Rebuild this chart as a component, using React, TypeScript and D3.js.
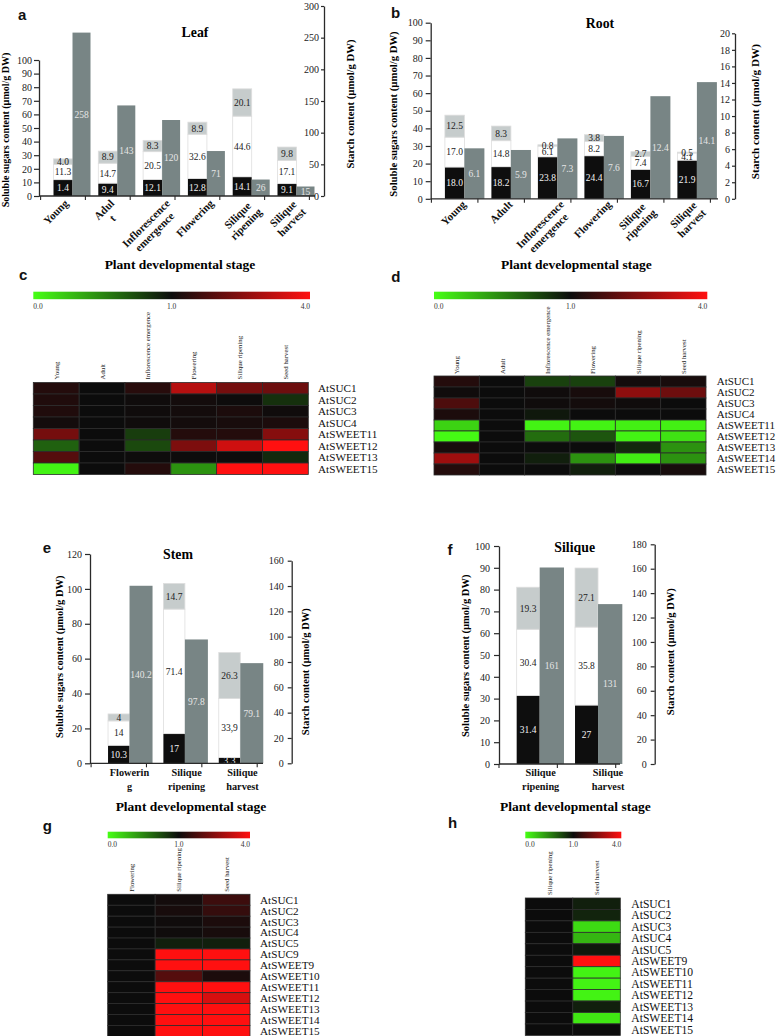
import React, { useEffect, useRef } from 'react';
import * as d3 from 'd3';

// ---------------- DATA ----------------
// Panel a: Leaf
const leafStages = ['Young', 'Adult', 'Inflorescence emergence', 'Flowering', 'Silique ripening', 'Silique harvest'];
const leafTickLines = [['Young'], ['Adul', 't'], ['Inflorescence', 'emergence'], ['Flowering'], ['Silique', 'ripening'], ['Silique', 'harvest']];
const leafSugarA = [12.0, 9.4, 12.1, 12.8, 14.1, 9.1];
const leafSugarAText = ['1.4', '9.4', '12.1', '12.8', '14.1', '9.1'];
const leafSugarB = [11.3, 14.7, 20.5, 32.6, 44.6, 17.1];
const leafSugarBText = ['11.3', '14.7', '20.5', '32.6', '44.6', '17.1'];
const leafSugarC = [4.0, 8.9, 8.3, 8.9, 20.1, 9.8];
const leafSugarCText = ['4.0', '8.9', '8.3', '8.9', '20.1', '9.8'];
const leafStarch = [258, 143, 120, 71, 26, 15];
const leafStarchText = ['258', '143', '120', '71', '26', '15'];

// Panel b: Root
const rootStages = ['Young', 'Adult', 'Inflorescence emergence', 'Flowering', 'Silique ripening', 'Silique harvest'];
const rootTickLines = [['Young'], ['Adult'], ['Inflorescence', 'emergence'], ['Flowering'], ['Silique', 'ripening'], ['Silique', 'harvest']];
const rootSugarA = [18.0, 18.2, 23.8, 24.4, 16.7, 21.9];
const rootSugarAText = ['18.0', '18.2', '23.8', '24.4', '16.7', '21.9'];
const rootSugarB = [17.0, 14.8, 6.1, 8.2, 7.4, 4.1];
const rootSugarBText = ['17.0', '14.8', '6.1', '8.2', '7.4', '4.1'];
const rootSugarC = [12.5, 8.3, 0.8, 3.8, 2.7, 0.5];
const rootSugarCText = ['12.5', '8.3', '0.8', '3.8', '2.7', '0.5'];
const rootStarch = [6.1, 5.9, 7.3, 7.6, 12.4, 14.1];
const rootStarchText = ['6.1', '5.9', '7.3', '7.6', '12.4', '14.1'];

// Panel e: Stem
const stemStages = ['Flowering', 'Silique ripening', 'Silique harvest'];
const stemTickLines = [['Flowerin', 'g'], ['Silique', 'ripening'], ['Silique', 'harvest']];
const stemSugarA = [10.3, 17, 3.3];
const stemSugarAText = ['10.3', '17', '3.3'];
const stemSugarB = [14, 71.4, 33.9];
const stemSugarBText = ['14', '71.4', '33,9'];
const stemSugarC = [4, 14.7, 26.3];
const stemSugarCText = ['4', '14.7', '26.3'];
const stemStarch = [140.2, 97.8, 79.1];
const stemStarchText = ['140.2', '97.8', '79.1'];

// Panel f: Silique
const silStages = ['Silique ripening', 'Silique harvest'];
const silTickLines = [['Silique', 'ripening'], ['Silique', 'harvest']];
const silSugarA = [31.4, 27];
const silSugarAText = ['31.4', '27'];
const silSugarB = [30.4, 35.8];
const silSugarBText = ['30.4', '35.8'];
const silSugarC = [19.3, 27.1];
const silSugarCText = ['19.3', '27.1'];
const silStarch = [161, 131];
const silStarchText = ['161', '131'];

// Heatmap c: Leaf expression
const hmLeafStages = ['Young', 'Adult', 'Inflorescence emergence', 'Flowering', 'Silique ripening', 'Seed harvest'];
const hmLeafGenes = ['AtSUC1', 'AtSUC2', 'AtSUC3', 'AtSUC4', 'AtSWEET11', 'AtSWEET12', 'AtSWEET13', 'AtSWEET15'];
const hmLeafValues = [
  [1.3, 1.0, 1.35, 3.1, 2.3, 2.2],
  [1.25, 1.0, 1.05, 1.1, 1.03, 0.85],
  [1.25, 1.0, 1.05, 1.1, 1.2, 1.05],
  [1.1, 1.0, 1.05, 1.1, 1.15, 1.2],
  [2.3, 1.0, 0.8, 1.3, 1.3, 2.5],
  [0.65, 1.0, 0.75, 2.4, 3.4, 4.0],
  [1.9, 1.0, 1.02, 1.02, 1.02, 0.88],
  [0.05, 1.0, 1.3, 0.45, 4.0, 4.0],
];

// Heatmap d: Root expression
const hmRootStages = ['Young', 'Adult', 'Inflorescence emergence', 'Flowering', 'Silique ripening', 'Seed harvest'];
const hmRootGenes = ['AtSUC1', 'AtSUC2', 'AtSUC3', 'AtSUC4', 'AtSWEET11', 'AtSWEET12', 'AtSWEET13', 'AtSWEET14', 'AtSWEET15'];
const hmRootValues = [
  [1.3, 1.0, 0.78, 0.78, 1.1, 1.15],
  [1.05, 1.0, 1.05, 1.15, 2.6, 2.2],
  [1.8, 1.0, 1.05, 1.1, 1.05, 1.0],
  [1.2, 1.0, 0.95, 1.0, 1.0, 1.0],
  [0.18, 1.0, 0.05, 0.05, 0.06, 0.06],
  [0.02, 1.0, 0.6, 0.7, 0.05, 0.12],
  [1.15, 1.0, 1.0, 1.0, 0.88, 0.45],
  [2.8, 1.0, 0.92, 0.45, 0.08, 0.45],
  [1.3, 1.0, 1.0, 0.92, 1.0, 1.15],
];

// Heatmap g: Stem expression
const hmStemStages = ['Flowering', 'Silique ripening', 'Seed harvest'];
const hmStemGenes = ['AtSUC1', 'AtSUC2', 'AtSUC3', 'AtSUC4', 'AtSUC5', 'AtSUC9', 'AtSWEET9', 'AtSWEET10', 'AtSWEET11', 'AtSWEET12', 'AtSWEET13', 'AtSWEET14', 'AtSWEET15'];
const hmStemValues = [
  [1.0, 1.1, 1.6],
  [1.0, 1.15, 1.5],
  [1.0, 1.05, 1.2],
  [1.0, 1.05, 1.15],
  [1.0, 0.92, 0.92],
  [1.0, 4.0, 4.0],
  [1.0, 4.0, 4.0],
  [1.0, 1.9, 1.2],
  [1.0, 4.0, 4.0],
  [1.0, 4.0, 3.5],
  [1.0, 4.0, 4.0],
  [1.0, 4.0, 4.0],
  [1.0, 4.0, 4.0],
];

// Heatmap h: Silique expression
const hmSilStages = ['Silique ripening', 'Seed harvest'];
const hmSilGenes = ['AtSUC1', 'AtSUC2', 'AtSUC3', 'AtSUC4', 'AtSUC5', 'AtSWEET9', 'AtSWEET10', 'AtSWEET11', 'AtSWEET12', 'AtSWEET13', 'AtSWEET14', 'AtSWEET15'];
const hmSilValues = [
  [1.0, 0.92],
  [1.0, 0.9],
  [1.0, 0.15],
  [1.0, 0.3],
  [1.0, 0.95],
  [1.0, 4.0],
  [1.0, 0.05],
  [1.0, 0.05],
  [1.0, 0.05],
  [1.0, 0.92],
  [1.0, 0.1],
  [1.0, 1.0],
];

const colorDomain = [0, 1, 4];
const colorTicks = ['0.0', '1.0', '4.0'];

// ---------------- STYLE ----------------
const SERIF = "'Liberation Serif','Times New Roman',Times,serif";
const SANS = "'Liberation Sans',Arial,Helvetica,sans-serif";
const AX = '#2a2a2a';
const C_A = '#0e0e0e';
const C_B = '#ffffff';
const C_C = '#c6cccc';
const C_STARCH = '#788585';
const HM_GREEN = '#46ff14';
const HM_BLACK = '#0c0c0c';
const HM_RED = '#ff1010';

let _ctx: CanvasRenderingContext2D | null = null;
function textWidth(t: string, font: string): number {
  if (!_ctx) {
    const c = document.createElement('canvas');
    _ctx = c.getContext('2d');
  }
  if (!_ctx) return t.length * 5.5;
  _ctx.font = font;
  return _ctx.measureText(t).width;
}

function YAxis({ scale, x, ticks, size, pad, fontSize }: any) {
  const ref = useRef<SVGGElement>(null);
  useEffect(() => {
    if (!ref.current) return;
    const g = d3.select(ref.current);
    g.call(d3.axisLeft(scale).tickValues(ticks).tickSize(size).tickPadding(pad).tickSizeOuter(0) as any);
    g.attr('font-family', null).attr('font-size', null);
    g.select('.domain').attr('stroke', AX).attr('stroke-width', 1.3);
    g.selectAll('.tick line').attr('stroke', AX).attr('stroke-width', 1.2);
    g.selectAll('.tick text').attr('font-family', SERIF).attr('font-size', fontSize).attr('fill', '#222');
  }, [scale, x, ticks, size, pad, fontSize]);
  return <g ref={ref} transform={`translate(${x},0)`} />;
}

type BarData = {
  stages: string[];
  tickLines: string[][];
  a: number[]; aText: string[];
  b: number[]; bText: string[];
  c: number[]; cText: string[];
  starch: number[]; starchText: string[];
};

function BarPanel({ d, L }: { d: BarData; L: any }) {
  const yL = d3.scaleLinear().domain([0, L.leftMax]).range([L.y0, L.yLTop]);
  const yR = d3.scaleLinear().domain([0, L.rightMax]).range([L.y0, L.yRTop]);
  const x = d3.scaleBand().domain(d.stages).range(L.band).paddingInner(0).paddingOuter(0);
  const rows = d.stages.map((s, i) => ({ stage: s, a: d.a[i], b: d.b[i], c: d.c[i] }));
  const stack = d3.stack<any>().keys(['a', 'b', 'c'])(rows);
  const fills: Record<string, string> = { a: C_A, b: C_B, c: C_C };
  const texts: Record<string, string[]> = { a: d.aText, b: d.bText, c: d.cText };
  const tcol: Record<string, string> = { a: '#f2f2f2', b: '#222', c: '#222' };
  const leftTicks = d3.range(0, L.leftMax + 1e-9, L.leftStep);
  const rightTicks = d3.range(0, L.rightMax + 1e-9, L.rightStep);
  const lblFont = `bold ${L.lblSize}px ${SERIF}`;
  return (
    <g>
      {stack.map((layer) => (
        <g key={layer.key}>
          {layer.map((seg, i) => {
            const cx = (x(d.stages[i]) as number) + x.bandwidth() / 2;
            const y1 = yL(seg[1]);
            const y0 = yL(seg[0]);
            return (
              <g key={i}>
                <rect x={cx - L.bw1 / 2} y={y1} width={L.bw1} height={y0 - y1} fill={fills[layer.key]}
                  stroke={layer.key === 'a' ? 'none' : '#dedede'} strokeWidth={0.8} />
                <text x={cx} y={(y0 + y1) / 2} dy="0.35em" textAnchor="middle" fontFamily={SERIF}
                  fontSize={L.valSize} fill={tcol[layer.key]}>{texts[layer.key][i]}</text>
              </g>
            );
          })}
        </g>
      ))}
      {d.starch.map((v, i) => {
        const cx = (x(d.stages[i]) as number) + x.bandwidth() / 2;
        const xs = cx + L.bw1 / 2;
        const yt = yR(v);
        return (
          <g key={'s' + i}>
            <rect x={xs} y={yt} width={L.bw2} height={L.y0 - yt} fill={C_STARCH} />
            <text x={xs + L.bw2 / 2} y={(yt + L.y0) / 2} dy="0.35em" textAnchor="middle" fontFamily={SERIF}
              fontSize={L.valSize} fill="#e6e6e6">{d.starchText[i]}</text>
          </g>
        );
      })}
      <line x1={L.x0} x2={L.xEnd} y1={L.y0} y2={L.y0} stroke={AX} strokeWidth={1.3} />
      {d3.range(d.stages.length + 1).map((k) => {
        const tx = L.band[0] + k * x.step();
        return <line key={'xt' + k} x1={tx} x2={tx} y1={L.y0} y2={L.y0 + 4} stroke={AX} strokeWidth={1.1} />;
      })}
      <YAxis scale={yL} x={L.x0} ticks={leftTicks} size={L.lTick[0]} pad={L.lTick[1]} fontSize={10} />
      <YAxis scale={yR} x={L.xR} ticks={rightTicks} size={L.rTick[0]} pad={L.rTick[1]} fontSize={10} />
      <text x={L.titleX} y={L.titleY} textAnchor="middle" fontFamily={SERIF} fontWeight="bold" fontSize={13.8}>{L.title}</text>
      <text transform={`translate(${L.lTitleX},${L.lTitleY}) rotate(-90)`} textAnchor="middle" fontFamily={SERIF}
        fontWeight="bold" fontSize={L.lTitleSize}>Soluble sugars content (µmol/g  DW)</text>
      <text transform={`translate(${L.rTitleX},${L.rTitleY}) rotate(-90)`} textAnchor="middle" fontFamily={SERIF}
        fontWeight="bold" fontSize={L.rTitleSize}>Starch content (µmol/g  DW)</text>
      {d.tickLines.map((lines, i) => {
        const cx = (x(d.stages[i]) as number) + x.bandwidth() / 2;
        if (L.rotated) {
          const maxW = d3.max(lines, (t) => textWidth(t, lblFont)) as number;
          return (
            <g key={'xl' + i} transform={`translate(${cx + L.lblDx[i]},${L.lblY}) rotate(-45)`}>
              {lines.map((t, j) => (
                <text key={j} x={-maxW / 2} y={j * L.lblLh + L.lblSize * 0.78} textAnchor="middle" fontFamily={SERIF}
                  fontWeight="bold" fontSize={L.lblSize} fill="#111">{t}</text>
              ))}
            </g>
          );
        }
        return (
          <g key={'xl' + i}>
            {lines.map((t, j) => (
              <text key={j} x={cx + L.lblDx[i]} y={L.lblY + j * L.lblLh} textAnchor="middle" fontFamily={SERIF}
                fontWeight="bold" fontSize={L.lblSize} fill="#111">{t}</text>
            ))}
          </g>
        );
      })}
    </g>
  );
}

function Heatmap({ id, stages, genes, values, L }: any) {
  const x = d3.scaleBand().domain(stages).range([L.x0, L.x1]);
  const y = d3.scaleBand().domain(genes).range([L.top, L.top + L.rowH * genes.length]);
  const color = d3.scaleLinear<string>().domain(colorDomain).range([HM_GREEN, HM_BLACK, HM_RED]).clamp(true);
  const cbPos = d3.scaleLinear().domain(colorDomain).range([0, 0.5, 1]);
  const cbX = d3.scaleLinear().domain([0, 0.5, 1]).range([L.cbX0, (L.cbX0 + L.cbX1) / 2, L.cbX1]);
  const anchors = ['start', 'middle', 'end'];
  return (
    <g>
      <defs>
        <linearGradient id={id} x1="0" x2="1" y1="0" y2="0">
          {colorDomain.map((v) => (
            <stop key={v} offset={`${cbPos(v) * 100}%`} stopColor={color(v)} />
          ))}
        </linearGradient>
      </defs>
      <rect x={L.cbX0} y={L.cbY} width={L.cbX1 - L.cbX0} height={L.cbH} fill={`url(#${id})`} />
      {colorDomain.map((v, i) => (
        <text key={'cl' + i} x={cbX(cbPos(v))} y={L.cbLblY} textAnchor={anchors[i]} fontFamily={SERIF}
          fontSize={7.5} fill="#333">{colorTicks[i]}</text>
      ))}
      {stages.map((s: string) => (
        <text key={'h' + s} transform={`translate(${(x(s) as number) + x.bandwidth() / 2 + 2.5},${L.hdrBottom}) rotate(-90)`}
          textAnchor="start" fontFamily={SERIF} fontSize={6.8} fill="#222">{s}</text>
      ))}
      {genes.map((g: string, r: number) => (
        <g key={'r' + g}>
          {stages.map((s: string, c: number) => (
            <rect key={s} x={x(s)} y={y(g)} width={x.bandwidth()} height={y.bandwidth()}
              fill={color(values[r][c])} stroke="#2c2c2c" strokeWidth={0.8} />
          ))}
          <text x={L.rowLblX} y={(y(g) as number) + y.bandwidth() / 2} dy="0.35em" fontFamily={SERIF}
            fontSize={L.rowLblSize} fill="#111">{g}</text>
        </g>
      ))}
    </g>
  );
}

const layoutA = {
  x0: 39, xEnd: 315, y0: 196, yLTop: 60, yRTop: 6, xR: 324, band: [40.6, 309.4], bw1: 19, bw2: 18,
  leftMax: 100, leftStep: 10, rightMax: 300, rightStep: 50, lTick: [5, 2], rTick: [3, 2], valSize: 9.5,
  title: 'Leaf', titleX: 195, titleY: 37, lTitleX: 9, lTitleY: 130, lTitleSize: 10, rTitleX: 354, rTitleY: 104, rTitleSize: 10.7,
  rotated: true, lblDx: [0, 1, 12, 11, 6, 5], lblY: 198, lblSize: 11, lblLh: 12,
};
const layoutB = {
  x0: 430.7, xEnd: 718, y0: 198.8, yLTop: 22.7, yRTop: 33.3, xR: 735, band: [431.4, 710.4], bw1: 19.5, bw2: 20,
  leftMax: 100, leftStep: 10, rightMax: 20, rightStep: 2, lTick: [5, 3], rTick: [3, 2], valSize: 9.5,
  title: 'Root', titleX: 600, titleY: 27.5, lTitleX: 397, lTitleY: 114, lTitleSize: 10.7, rTitleX: 758.5, rTitleY: 111.7, rTitleSize: 11.2,
  rotated: true, lblDx: [6, 6, 11, 12, 2, 5], lblY: 199, lblSize: 11, lblLh: 12,
};
const layoutE = {
  x0: 90, xEnd: 263, y0: 763.3, yLTop: 554, yRTop: 560.7, xR: 291.7, band: [91.1, 257.2], bw1: 21.5, bw2: 23,
  leftMax: 120, leftStep: 20, rightMax: 160, rightStep: 20, lTick: [5, 3], rTick: [4, 4], valSize: 9.5,
  title: 'Stem', titleX: 178, titleY: 559, lTitleX: 62.5, lTitleY: 656.7, lTitleSize: 10.5, rTitleX: 309, rTitleY: 671.7, rTitleSize: 10.5,
  rotated: false, lblDx: [10.7, 12.5, 13], lblY: 776, lblSize: 10.3, lblLh: 14,
};
const layoutF = {
  x0: 499, xEnd: 620, y0: 764, yLTop: 546, yRTop: 544.3, xR: 654.7, band: [499, 615.7], bw1: 23, bw2: 24.3,
  leftMax: 100, leftStep: 10, rightMax: 180, rightStep: 20, lTick: [5, 4], rTick: [4, 4], valSize: 9.5,
  title: 'Silique', titleX: 574.7, titleY: 552, lTitleX: 469, lTitleY: 655.8, lTitleSize: 10.5, rTitleX: 673.5, rTitleY: 651.7, rTitleSize: 10.5,
  rotated: false, lblDx: [12.5, 21.5], lblY: 775.5, lblSize: 10.3, lblLh: 14,
};

const hmC = { x0: 33.3, x1: 308.3, top: 382.5, rowH: 11.5, hdrBottom: 379.5, cbX0: 33.3, cbX1: 310, cbY: 291.7, cbH: 7.5, cbLblY: 309, rowLblX: 318, rowLblSize: 11.2 };
const hmD = { x0: 434, x1: 706, top: 376, rowH: 11, hdrBottom: 374, cbX0: 434, cbX1: 707.3, cbY: 291.7, cbH: 7.5, cbLblY: 308.5, rowLblX: 716.7, rowLblSize: 11 };
const hmG = { x0: 107.7, x1: 250, top: 894.3, rowH: 10.93, hdrBottom: 891.7, cbX0: 107.7, cbX1: 250, cbY: 831.7, cbH: 6.6, cbLblY: 846.5, rowLblX: 260, rowLblSize: 11.2 };
const hmH = { x0: 525.3, x1: 620.3, top: 898, rowH: 11.45, hdrBottom: 895, cbX0: 525.3, cbX1: 621.3, cbY: 831.7, cbH: 6.6, cbLblY: 846.5, rowLblX: 631.3, rowLblSize: 11.6 };

const panelLetters = [
  { t: 'a', x: 18, y: 19.5 }, { t: 'b', x: 391, y: 18.3 },
  { t: 'c', x: 19, y: 280 }, { t: 'd', x: 391.3, y: 281.5 },
  { t: 'e', x: 42.7, y: 552.7 }, { t: 'f', x: 447.5, y: 555 },
  { t: 'g', x: 42.7, y: 831 }, { t: 'h', x: 448, y: 828.3 },
];
const stageTitles = [
  { x: 180, y: 269 }, { x: 576.3, y: 269 }, { x: 191, y: 810.5 }, { x: 575.3, y: 810.5 },
];

export default function App() {
  const leaf: BarData = { stages: leafStages, tickLines: leafTickLines, a: leafSugarA, aText: leafSugarAText, b: leafSugarB, bText: leafSugarBText, c: leafSugarC, cText: leafSugarCText, starch: leafStarch, starchText: leafStarchText };
  const root: BarData = { stages: rootStages, tickLines: rootTickLines, a: rootSugarA, aText: rootSugarAText, b: rootSugarB, bText: rootSugarBText, c: rootSugarC, cText: rootSugarCText, starch: rootStarch, starchText: rootStarchText };
  const stem: BarData = { stages: stemStages, tickLines: stemTickLines, a: stemSugarA, aText: stemSugarAText, b: stemSugarB, bText: stemSugarBText, c: stemSugarC, cText: stemSugarCText, starch: stemStarch, starchText: stemStarchText };
  const sil: BarData = { stages: silStages, tickLines: silTickLines, a: silSugarA, aText: silSugarAText, b: silSugarB, bText: silSugarBText, c: silSugarC, cText: silSugarCText, starch: silStarch, starchText: silStarchText };
  return (
    <svg width={778} height={1036} style={{ position: 'absolute', left: 0, top: 0, background: '#fff' }}>
      <rect width={778} height={1036} fill="#fff" />
      <BarPanel d={leaf} L={layoutA} />
      <BarPanel d={root} L={layoutB} />
      <BarPanel d={stem} L={layoutE} />
      <BarPanel d={sil} L={layoutF} />
      <Heatmap id="gc" stages={hmLeafStages} genes={hmLeafGenes} values={hmLeafValues} L={hmC} />
      <Heatmap id="gd" stages={hmRootStages} genes={hmRootGenes} values={hmRootValues} L={hmD} />
      <Heatmap id="gg" stages={hmStemStages} genes={hmStemGenes} values={hmStemValues} L={hmG} />
      <Heatmap id="gh" stages={hmSilStages} genes={hmSilGenes} values={hmSilValues} L={hmH} />
      {stageTitles.map((p, i) => (
        <text key={'st' + i} x={p.x} y={p.y} textAnchor="middle" fontFamily={SERIF} fontWeight="bold" fontSize={13.5}>Plant developmental stage</text>
      ))}
      {panelLetters.map((p) => (
        <text key={p.t} x={p.x} y={p.y} fontFamily={SANS} fontWeight="bold" fontSize={15} fill="#111">{p.t}</text>
      ))}
    </svg>
  );
}
